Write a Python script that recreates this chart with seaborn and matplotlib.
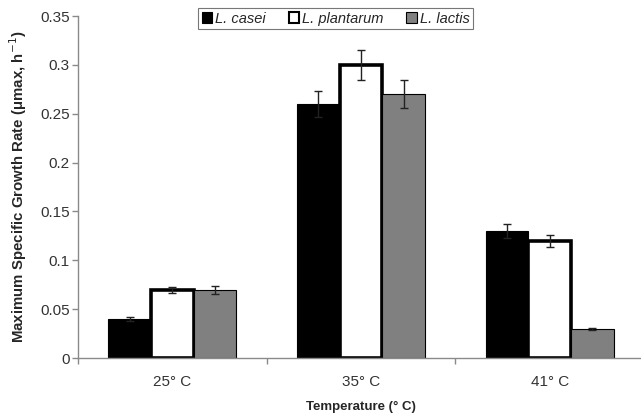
import matplotlib
matplotlib.use("Agg")
import matplotlib.pyplot as plt
import seaborn as sns
import pandas as pd
from matplotlib.patches import Patch

temperatures = ["25\u00b0 C", "35\u00b0 C", "41\u00b0 C"]
strains = ["L. casei", "L. plantarum", "L. lactis"]
casei = [0.04, 0.26, 0.13]
plantarum = [0.07, 0.30, 0.12]
lactis = [0.07, 0.27, 0.03]
casei_err = [0.002, 0.013, 0.007]
plantarum_err = [0.003, 0.015, 0.006]
lactis_err = [0.004, 0.014, 0.001]

colors = ["#000000", "#ffffff", "#808080"]

rows = []
for strain, vals, errs in zip(strains, [casei, plantarum, lactis],
                              [casei_err, plantarum_err, lactis_err]):
    for t, v, e in zip(temperatures, vals, errs):
        rows.append({"temp": t, "strain": strain, "rate": v, "err": e})
df = pd.DataFrame(rows)

sns.set_theme(style="white")
plt.rcParams["font.family"] = ["Liberation Sans", "DejaVu Sans"]

fig = plt.figure(figsize=(6.41, 4.18), dpi=100)
ax = fig.add_axes([78 / 641, 60 / 418, 566 / 641, 342 / 418])

sns.barplot(data=df, x="temp", y="rate", hue="strain", order=temperatures,
            hue_order=strains, palette=colors, width=0.68, gap=0,
            errorbar=None, edgecolor="black", linewidth=0.8, ax=ax,
            legend=False)

# style bars and add error bars from the drawn patches
bars = [p for p in ax.patches if p.get_height() > 0]
bars.sort(key=lambda p: p.get_x())
lookup = {(r.temp, r.strain): r.err for r in df.itertuples()}
for ci, t in enumerate(temperatures):
    group = [p for p in bars if abs(p.get_x() + p.get_width() / 2 - ci) < 0.5]
    group.sort(key=lambda p: p.get_x())
    for p, s in zip(group, strains):
        if s == "L. plantarum":
            p.set_linewidth(2.6)
        xc = p.get_x() + p.get_width() / 2
        ax.errorbar(xc, p.get_height(), yerr=lookup[(t, s)], fmt="none",
                    ecolor="#222222", elinewidth=1.0, capsize=3, capthick=1.0,
                    zorder=5)

ax.set_ylim(0, 0.35)
ax.set_xlim(-0.5, 2.5)
ax.set_yticks([0, 0.05, 0.1, 0.15, 0.2, 0.25, 0.3, 0.35])
ax.set_yticklabels(["0", "0.05", "0.1", "0.15", "0.2", "0.25", "0.3", "0.35"])
ax.set_xticks([-0.5, 0.5, 1.5, 2.5], minor=True)

for side in ["top", "right"]:
    ax.spines[side].set_visible(False)
for side in ["left", "bottom"]:
    ax.spines[side].set_color("#8a8a8a")
    ax.spines[side].set_linewidth(1.0)

ax.tick_params(axis="y", which="major", left=True, length=4, width=1,
               color="#8a8a8a", labelsize=11, labelcolor="#333333", pad=2)
ax.tick_params(axis="x", which="major", bottom=False, labelsize=11,
               labelcolor="#333333", pad=6)
ax.tick_params(axis="x", which="minor", bottom=True, length=4, width=1,
               color="#8a8a8a")

ax.set_xlabel("Temperature (\u00b0 C)", fontsize=9.5, fontweight="bold",
              labelpad=9)
ax.set_ylabel("Maximum Specific Growth Rate (\u03bcmax, h$^{-1}$)",
              fontsize=10.8, fontweight="bold", labelpad=8)

handles = [Patch(facecolor=c, edgecolor="black", linewidth=1.5 if c == "#ffffff" else 0.8)
           for c in colors]
leg = ax.legend(handles, strains, ncol=3, loc="upper center",
                bbox_to_anchor=(0.455, 1.045), frameon=True, fancybox=False,
                handlelength=0.7, handleheight=0.7, handletextpad=0.2,
                columnspacing=1.6, borderpad=0.25, fontsize=10.5)
leg.get_frame().set_edgecolor("#555555")
leg.get_frame().set_linewidth(0.8)
for txt in leg.get_texts():
    txt.set_fontstyle("italic")

fig.savefig("out.png", dpi=100)
